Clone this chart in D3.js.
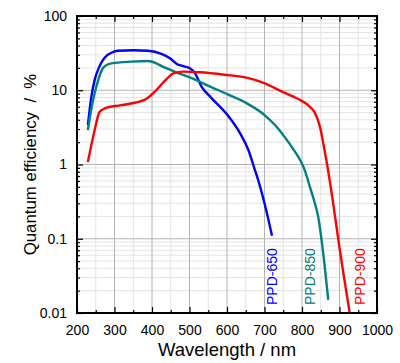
<!DOCTYPE html>
<html>
<head>
<meta charset="utf-8">
<script src="https://cdn.jsdelivr.net/npm/d3@7"></script>
<style>
  body { margin: 0; background: #fff; }
  svg { display: block; font-family: Arial, "Liberation Sans", sans-serif; }
</style>
</head>
<body>
<div id="chart"></div>
<script>
// Quantum efficiency curves (wavelength nm, QE %)
const ppd650 = [[229, 3.4], [238, 8], [247, 13.7], [258, 20], [269, 25.5], [280, 29.5], [292, 32], [309, 34], [350, 34.5], [389, 34], [425, 31], [448, 27], [466, 22.6], [485, 21], [501, 19.8], [515, 16.9], [532, 11.2], [555, 8.2], [602, 4.6], [635, 2.63], [657, 1.57], [673, 0.89], [683, 0.62], [700, 0.3], [720, 0.11]];
const ppd850 = [[229, 2.9], [238, 5.5], [247, 9.1], [258, 14.5], [269, 19.8], [280, 22], [292, 23], [345, 24.3], [389, 24.8], [438, 19.8], [470, 17], [501, 14.9], [555, 11.2], [602, 8.8], [652, 6.7], [701, 4.6], [728, 3.4], [755, 2.3], [777, 1.6], [795, 1.15], [804, 0.93], [821, 0.5], [832, 0.33], [843, 0.2], [851, 0.107], [860, 0.045], [870, 0.015]];
const ppd900 = [[229, 1.08], [247, 2.9], [260, 5.1], [274, 5.7], [318, 6.3], [380, 7.4], [407, 9.5], [438, 14], [457, 16.9], [483, 17.8], [528, 17.5], [602, 16], [652, 14.8], [701, 12.4], [741, 9.9], [777, 8.2], [795, 7.4], [821, 6], [835, 4.9], [848, 3.2], [860, 1.57], [867, 1.0], [875, 0.56], [882, 0.33], [897, 0.096], [928, 0.0095]];

const series = [
  { name: 'PPD-650', data: ppd650, color: '#0000ff', labelX: 720 },
  { name: 'PPD-850', data: ppd850, color: '#008080', labelX: 822 },
  { name: 'PPD-900', data: ppd900, color: '#ff0000', labelX: 955 }
];

const xTicks = [200, 300, 400, 500, 600, 700, 800, 900, 1000];
const yTicks = [0.01, 0.1, 1, 10, 100];
const yTickLabels = ['0.01', '0.1', '1', '10', '100'];

const W = 400, H = 363;
const margin = { top: 16, right: 23, bottom: 50, left: 77 };
const iw = W - margin.left - margin.right;
const ih = H - margin.top - margin.bottom;

const svg = d3.select('#chart').append('svg').attr('width', W).attr('height', H);
const g = svg.append('g').attr('transform', `translate(${margin.left},${margin.top})`);

const x = d3.scaleLinear().domain([200, 1000]).range([0, iw]);
const y = d3.scaleLog().domain([0.01, 100]).range([ih, 0]);

// minor values
const xMinor = d3.range(250, 1000, 100);
const yMinor = [];
[0.01, 0.1, 1, 10].forEach(d => { for (let k = 2; k <= 9; k++) yMinor.push(d * k); });

// grid
g.append('g').selectAll('line').data(xMinor).enter().append('line')
  .attr('x1', d => x(d)).attr('x2', d => x(d)).attr('y1', 0).attr('y2', ih)
  .attr('stroke', '#e4e4e4').attr('stroke-width', 1);
g.append('g').selectAll('line').data(yMinor).enter().append('line')
  .attr('y1', d => y(d)).attr('y2', d => y(d)).attr('x1', 0).attr('x2', iw)
  .attr('stroke', '#e4e4e4').attr('stroke-width', 1);
g.append('g').selectAll('line').data(xTicks.slice(1, -1)).enter().append('line')
  .attr('x1', d => x(d)).attr('x2', d => x(d)).attr('y1', 0).attr('y2', ih)
  .attr('stroke', '#b4b4b4').attr('stroke-width', 1);
g.append('g').selectAll('line').data(yTicks.slice(1, -1)).enter().append('line')
  .attr('y1', d => y(d)).attr('y2', d => y(d)).attr('x1', 0).attr('x2', iw)
  .attr('stroke', '#b4b4b4').attr('stroke-width', 1);

// curves
g.append('clipPath').attr('id', 'clip').append('rect').attr('width', iw).attr('height', ih);
const line = d3.line().x(d => x(d[0])).y(d => y(d[1])).curve(d3.curveMonotoneX);
g.append('g').attr('clip-path', 'url(#clip)').selectAll('path').data(series).enter().append('path')
  .attr('d', d => line(d.data))
  .attr('fill', 'none')
  .attr('stroke', d => d.color)
  .attr('stroke-width', 2.4)
  .attr('stroke-linejoin', 'round');

// series labels (rotated)
g.selectAll('text.lbl').data(series).enter().append('text')
  .attr('class', 'lbl')
  .attr('transform', d => `translate(${x(d.labelX)},${ih - 8}) rotate(-90)`)
  .attr('dy', '0.35em')
  .attr('fill', d => d.color)
  .attr('font-size', 14)
  .text(d => d.name);

// axes with inward ticks
const tickFmt = d => yTickLabels[yTicks.indexOf(d)];
const axisStyle = sel => {
  sel.select('.domain').remove();
  sel.selectAll('line').attr('stroke', '#000').attr('stroke-width', 1.2);
  sel.selectAll('text').attr('font-size', 14).attr('fill', '#000');
};

g.append('g').attr('transform', `translate(0,${ih})`)
  .call(d3.axisBottom(x).tickValues(xTicks).tickSize(-6).tickPadding(12).tickFormat(d3.format('d'))).call(axisStyle);
g.append('g').attr('transform', `translate(0,${ih})`)
  .call(d3.axisBottom(x).tickValues(xMinor).tickSize(-3).tickFormat('')).call(axisStyle);
g.append('g')
  .call(d3.axisTop(x).tickValues(xTicks).tickSize(-6).tickFormat('')).call(axisStyle);
g.append('g')
  .call(d3.axisTop(x).tickValues(xMinor).tickSize(-3).tickFormat('')).call(axisStyle);

g.append('g')
  .call(d3.axisLeft(y).tickValues(yTicks).tickSize(-6).tickPadding(10).tickFormat(tickFmt)).call(axisStyle);
g.append('g')
  .call(d3.axisLeft(y).tickValues(yMinor).tickSize(-3).tickFormat('')).call(axisStyle);
g.append('g').attr('transform', `translate(${iw},0)`)
  .call(d3.axisRight(y).tickValues(yTicks).tickSize(-6).tickFormat('')).call(axisStyle);
g.append('g').attr('transform', `translate(${iw},0)`)
  .call(d3.axisRight(y).tickValues(yMinor).tickSize(-3).tickFormat('')).call(axisStyle);

// frame
g.append('rect').attr('width', iw).attr('height', ih)
  .attr('fill', 'none').attr('stroke', '#000').attr('stroke-width', 2);

// axis titles
svg.append('text')
  .attr('x', margin.left + iw / 2).attr('y', 356)
  .attr('text-anchor', 'middle').attr('font-size', 18.5)
  .text('Wavelength / nm');
svg.append('text')
  .attr('transform', `translate(36,${margin.top + ih / 2}) rotate(-90)`)
  .attr('text-anchor', 'middle').attr('font-size', 16.8)
  .text('Quantum efficiency\u00a0 /\u00a0 %');
</script>
</body>
</html>
